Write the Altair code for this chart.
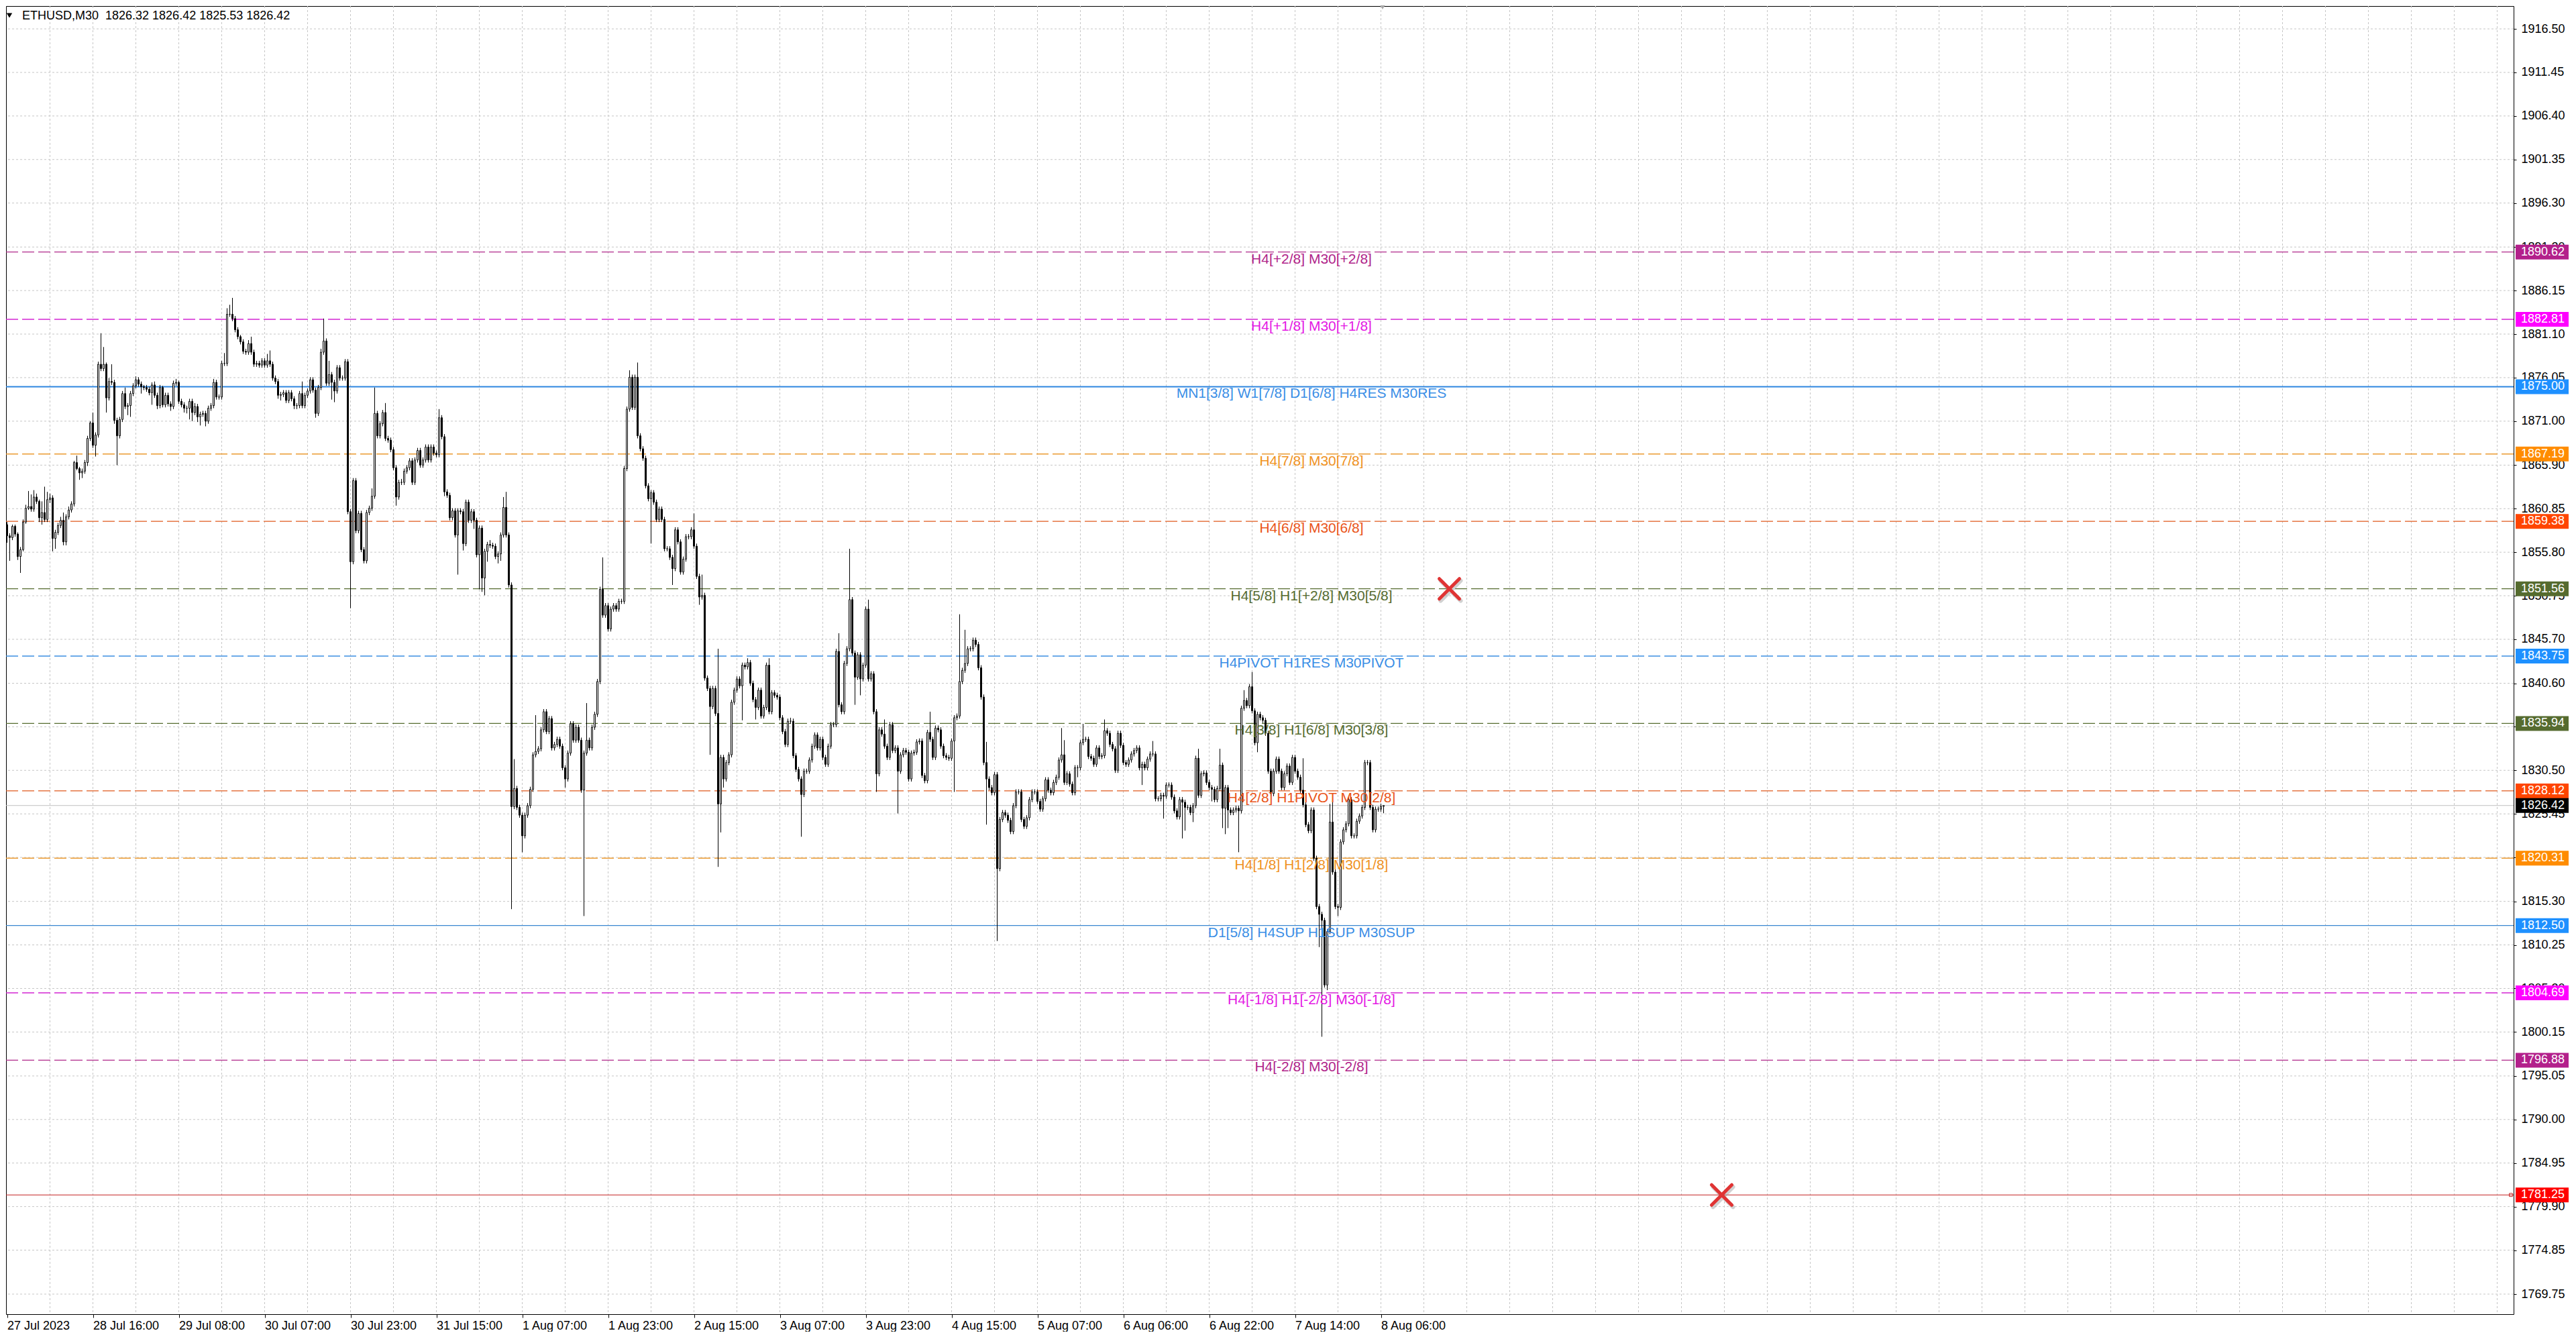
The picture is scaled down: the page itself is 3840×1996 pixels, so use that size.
import altair as alt
import pandas as pd

# ------------------------------------------------------------------ data
symbol_title = "ETHUSD,M30\u00a0\u00a01826.32 1826.42 1825.53 1826.42"

first_open = 1859.0
closes = [
    1857.7, 1857.5, 1858.8, 1857.9, 1855.3, 1856.1, 1859.3, 1860.9, 1861.1, 1860.8, 1862.2, 1861.7, 1859.8, 1860.4, 1859.6, 1861.9,
    1862.1, 1857.4, 1858.1, 1858.9, 1859.5, 1857.0, 1859.9, 1860.7, 1861.4, 1866.2, 1865.5, 1865.0, 1865.2, 1866.2, 1869.0, 1870.8,
    1868.2, 1869.4, 1877.6, 1877.1, 1877.6, 1873.7, 1875.6, 1875.5, 1871.1, 1869.3, 1871.2, 1874.2, 1872.7, 1872.8, 1874.2, 1875.1,
    1875.8, 1875.3, 1875.0, 1874.9, 1874.7, 1874.3, 1875.2, 1874.0, 1872.8, 1874.9, 1872.9, 1874.0, 1873.0, 1872.7, 1875.4, 1875.5,
    1873.3, 1872.9, 1872.5, 1872.5, 1873.3, 1872.0, 1872.7, 1871.5, 1871.8, 1871.9, 1871.0, 1872.5, 1872.8, 1875.5, 1873.8, 1873.8,
    1877.7, 1877.7, 1883.4, 1883.4, 1882.9, 1881.6, 1880.8, 1880.2, 1879.1, 1879.0, 1880.0, 1879.0, 1877.6, 1877.7, 1877.5, 1878.0,
    1877.5, 1878.0, 1877.6, 1876.0, 1875.6, 1874.0, 1874.1, 1874.3, 1873.4, 1874.3, 1873.6, 1872.8, 1872.8, 1874.2, 1872.8, 1874.0,
    1874.5, 1875.8, 1874.6, 1871.9, 1874.9, 1879.0, 1880.3, 1875.4, 1876.4, 1875.5, 1874.5, 1877.2, 1876.0, 1876.0, 1877.9, 1860.5,
    1854.7, 1864.1, 1858.3, 1860.3, 1856.1, 1854.8, 1860.4, 1860.9, 1862.3, 1871.9, 1869.3, 1870.7, 1872.0, 1869.0, 1868.8, 1867.7,
    1865.6, 1862.2, 1863.9, 1863.9, 1865.2, 1865.6, 1866.4, 1863.9, 1866.5, 1867.6, 1865.9, 1866.5, 1868.0, 1866.5, 1868.0, 1867.3,
    1867.1, 1871.4, 1869.2, 1862.8, 1862.4, 1859.8, 1860.6, 1857.8, 1860.6, 1860.5, 1856.8, 1861.6, 1859.5, 1860.5, 1859.5, 1855.5,
    1858.6, 1852.8, 1855.9, 1856.7, 1856.6, 1856.5, 1855.3, 1855.6, 1857.8, 1861.0, 1857.8, 1852.0, 1826.3, 1828.4, 1826.2, 1825.3,
    1822.9, 1825.3, 1826.4, 1828.3, 1832.3, 1832.7, 1833.0, 1835.2, 1837.3, 1835.0, 1836.5, 1833.1, 1833.5, 1834.1, 1833.3, 1830.8,
    1829.5, 1832.5, 1835.9, 1834.0, 1835.5, 1834.0, 1828.2, 1832.5, 1834.0, 1833.1, 1835.5, 1837.0, 1840.8, 1851.5, 1848.5, 1849.6,
    1846.9, 1849.2, 1849.6, 1849.2, 1850.1, 1850.1, 1865.5, 1872.4, 1876.1, 1872.6, 1876.1, 1869.3, 1867.8, 1866.7, 1863.5, 1862.0,
    1862.7, 1861.6, 1859.6, 1860.8, 1859.6, 1856.2, 1856.2, 1855.2, 1853.9, 1858.4, 1857.0, 1853.5, 1855.0, 1857.6, 1857.6, 1858.4,
    1856.5, 1853.0, 1850.6, 1850.8, 1841.2, 1840.0, 1837.9, 1840.0, 1837.1, 1826.6, 1832.0, 1829.5, 1831.4, 1832.3, 1838.4, 1839.8,
    1841.1, 1840.3, 1842.7, 1842.5, 1843.0, 1840.6, 1838.7, 1837.8, 1839.8, 1836.8, 1837.8, 1842.7, 1837.3, 1839.5, 1839.2, 1839.0,
    1836.6, 1835.0, 1833.5, 1836.2, 1836.2, 1832.2, 1830.6, 1829.5, 1827.7, 1830.4, 1830.4, 1831.7, 1833.3, 1834.6, 1833.1, 1834.1,
    1832.0, 1831.2, 1833.3, 1835.8, 1835.8, 1844.3, 1838.1, 1837.3, 1842.9, 1844.6, 1850.3, 1844.1, 1841.3, 1843.9, 1841.1, 1842.7,
    1849.2, 1841.1, 1841.7, 1837.3, 1830.1, 1835.2, 1834.7, 1833.3, 1832.0, 1835.8, 1832.8, 1833.1, 1830.4, 1832.3, 1832.8, 1832.6,
    1829.5, 1832.5, 1832.6, 1833.8, 1833.9, 1829.9, 1829.3, 1834.9, 1834.1, 1832.0, 1835.4, 1835.2, 1833.3, 1832.2, 1832.0, 1831.9,
    1833.9, 1836.6, 1836.8, 1840.8, 1842.1, 1842.9, 1844.6, 1844.6, 1845.6, 1845.1, 1842.4, 1839.0, 1831.4, 1829.5, 1828.5, 1827.9,
    1830.0, 1819.1, 1824.8, 1825.6, 1825.3, 1824.7, 1823.4, 1826.4, 1828.0, 1828.0, 1824.8, 1824.0, 1825.0, 1827.1, 1828.0, 1828.0,
    1826.9, 1826.0, 1827.2, 1829.4, 1828.2, 1827.9, 1829.1, 1829.7, 1831.7, 1832.3, 1829.1, 1830.1, 1828.9, 1827.9, 1830.8, 1830.8,
    1833.7, 1834.1, 1834.1, 1832.1, 1831.9, 1831.2, 1833.1, 1832.1, 1832.2, 1835.1, 1834.8, 1833.5, 1833.0, 1830.5, 1834.8, 1833.4,
    1831.4, 1831.2, 1831.7, 1832.4, 1832.8, 1833.1, 1830.8, 1831.2, 1830.8, 1831.8, 1832.4, 1832.4, 1827.2, 1827.2, 1827.6, 1827.5,
    1828.8, 1828.8, 1827.4, 1825.8, 1825.1, 1827.1, 1826.8, 1826.2, 1826.2, 1825.6, 1826.4, 1831.9, 1827.6, 1830.1, 1830.2, 1829.1,
    1828.5, 1828.3, 1827.1, 1828.4, 1831.1, 1826.1, 1828.5, 1825.9, 1825.6, 1825.9, 1826.1, 1825.8, 1837.7, 1838.6, 1838.0, 1840.2,
    1837.4, 1833.7, 1837.0, 1836.6, 1836.3, 1834.8, 1830.4, 1827.8, 1830.4, 1831.8, 1830.4, 1828.5, 1830.1, 1831.0, 1829.1, 1832.0,
    1830.4, 1829.7, 1828.2, 1826.5, 1824.2, 1823.5, 1825.9, 1820.3, 1814.7, 1813.8, 1813.1, 1805.6, 1811.8, 1824.5, 1818.7, 1814.7,
    1814.6, 1822.2, 1823.6, 1824.3, 1827.1, 1822.9, 1822.9, 1824.6, 1825.2, 1826.2, 1831.4, 1831.4, 1826.2, 1823.6, 1826.0, 1826.0,
    1826.32, 1826.42,
]

# wick lengths above max(open, close) and below min(open, close), in tenths of a dollar
upper_wick_tenths = [
    3, 3, 2, 2, 2, 3, 3, 4, 18, 14, 8, 4, 2, 13, 30, 9,
    5, 3, 3, 3, 4, 9, 3, 4, 3, 2, 8, 2, 3, 3, 3, 2,
    12, 3, 3, 36, 20, 2, 4, 20, 3, 3, 3, 3, 7, 3, 3, 3,
    4, 3, 3, 2, 3, 3, 3, 4, 3, 3, 2, 3, 3, 3, 3, 4,
    2, 3, 3, 3, 3, 3, 4, 3, 3, 3, 3, 3, 3, 4, 3, 3,
    3, 12, 7, 11, 19, 3, 3, 2, 3, 3, 4, 8, 3, 3, 3, 3,
    3, 8, 12, 3, 3, 3, 3, 3, 3, 3, 3, 3, 3, 3, 14, 3,
    3, 3, 3, 3, 3, 4, 26, 3, 16, 3, 3, 3, 3, 3, 3, 3,
    3, 3, 3, 3, 3, 3, 3, 3, 9, 30, 3, 3, 3, 11, 3, 3,
    3, 3, 3, 4, 3, 3, 3, 3, 3, 3, 3, 3, 3, 3, 3, 3,
    3, 10, 3, 3, 3, 3, 3, 3, 3, 3, 3, 3, 3, 3, 3, 3,
    3, 3, 3, 3, 5, 3, 3, 3, 3, 12, 18, 3, 3, 34, 3, 3,
    3, 3, 3, 3, 3, 42, 3, 3, 3, 3, 3, 3, 3, 3, 3, 3,
    3, 3, 3, 3, 3, 3, 3, 3, 43, 3, 3, 3, 3, 3, 37, 3,
    3, 3, 3, 3, 3, 3, 3, 3, 8, 3, 3, 17, 3, 3, 3, 3,
    3, 3, 3, 3, 3, 3, 3, 3, 3, 3, 3, 3, 3, 3, 3, 3,
    19, 3, 3, 24, 3, 3, 3, 3, 3, 75, 3, 3, 3, 3, 3, 3,
    3, 3, 3, 3, 5, 3, 3, 3, 3, 3, 3, 3, 8, 3, 3, 3,
    3, 3, 3, 3, 4, 3, 3, 3, 3, 3, 3, 3, 3, 3, 3, 3,
    3, 3, 3, 3, 3, 3, 21, 3, 3, 3, 59, 3, 3, 3, 3, 3,
    3, 11, 3, 3, 3, 3, 3, 17, 3, 3, 3, 3, 3, 3, 3, 3,
    3, 3, 3, 3, 3, 3, 3, 3, 24, 3, 3, 3, 3, 3, 3, 3,
    3, 3, 3, 78, 3, 39, 3, 3, 3, 3, 3, 3, 3, 24, 3, 3,
    3, 3, 3, 3, 3, 3, 3, 3, 3, 3, 3, 3, 3, 3, 3, 3,
    3, 3, 3, 3, 3, 3, 3, 3, 3, 31, 17, 3, 3, 3, 3, 3,
    3, 18, 3, 3, 3, 3, 3, 3, 3, 13, 3, 3, 3, 3, 3, 3,
    3, 3, 3, 3, 3, 3, 3, 3, 3, 3, 3, 15, 3, 3, 3, 3,
    3, 3, 3, 3, 3, 3, 3, 3, 3, 3, 3, 3, 11, 3, 3, 3,
    3, 3, 3, 3, 19, 3, 3, 3, 3, 3, 3, 3, 3, 12, 3, 3,
    17, 3, 3, 3, 3, 3, 3, 3, 3, 3, 3, 3, 3, 3, 3, 3,
    3, 3, 3, 37, 3, 3, 3, 3, 3, 3, 3, 3, 3, 21, 24, 3,
    3, 3, 3, 3, 3, 3, 3, 3, 3, 3, 3, 3, 3, 3, 3, 3,
    3, 0,
]
lower_wick_tenths = [
    8, 27, 3, 3, 4, 19, 2, 2, 2, 3, 3, 3, 5, 8, 3, 3,
    4, 15, 12, 3, 3, 4, 4, 3, 3, 3, 2, 8, 6, 3, 4, 3,
    3, 13, 3, 3, 3, 17, 3, 3, 4, 34, 3, 3, 3, 10, 13, 3,
    3, 3, 8, 3, 3, 3, 14, 3, 4, 3, 3, 3, 3, 5, 3, 3,
    3, 3, 5, 6, 13, 10, 3, 6, 10, 3, 6, 3, 3, 3, 3, 3,
    3, 3, 3, 3, 3, 3, 3, 3, 3, 3, 3, 3, 3, 3, 3, 3,
    3, 3, 3, 3, 3, 4, 6, 3, 3, 3, 3, 4, 4, 3, 3, 3,
    3, 3, 3, 5, 3, 3, 3, 3, 3, 20, 13, 3, 3, 3, 3, 3,
    54, 3, 3, 3, 3, 3, 3, 3, 3, 3, 3, 3, 3, 3, 3, 3,
    3, 10, 3, 3, 3, 3, 3, 3, 3, 3, 3, 3, 3, 3, 3, 3,
    3, 3, 3, 5, 3, 3, 3, 3, 46, 3, 8, 3, 3, 3, 10, 3,
    40, 16, 20, 12, 3, 3, 3, 8, 8, 3, 3, 3, 119, 3, 3, 3,
    19, 3, 3, 3, 3, 3, 3, 3, 3, 3, 3, 3, 3, 3, 3, 3,
    10, 3, 3, 3, 3, 3, 3, 146, 3, 3, 3, 3, 3, 3, 3, 3,
    3, 3, 3, 3, 3, 3, 3, 3, 3, 3, 3, 3, 3, 3, 3, 3,
    52, 3, 3, 3, 3, 3, 3, 3, 19, 3, 3, 3, 3, 3, 3, 3,
    3, 3, 9, 3, 3, 3, 56, 3, 3, 73, 33, 10, 3, 3, 3, 3,
    3, 3, 40, 3, 3, 3, 3, 14, 3, 3, 3, 3, 3, 3, 3, 3,
    3, 3, 3, 3, 3, 3, 3, 3, 49, 3, 3, 3, 3, 3, 3, 3,
    3, 3, 3, 3, 3, 3, 3, 3, 3, 3, 3, 3, 32, 3, 19, 3,
    3, 3, 3, 3, 21, 3, 3, 3, 3, 3, 3, 3, 49, 3, 3, 3,
    3, 3, 3, 3, 3, 3, 3, 3, 3, 3, 3, 3, 3, 3, 3, 3,
    3, 59, 3, 3, 3, 3, 3, 3, 3, 3, 3, 3, 3, 53, 3, 3,
    3, 84, 3, 3, 3, 3, 3, 3, 3, 3, 3, 3, 3, 3, 3, 3,
    3, 3, 3, 3, 3, 3, 3, 3, 3, 3, 3, 3, 3, 3, 3, 11,
    3, 3, 3, 3, 3, 3, 3, 3, 3, 3, 3, 3, 3, 3, 3, 3,
    3, 3, 3, 3, 3, 3, 3, 20, 3, 3, 3, 3, 3, 3, 3, 26,
    3, 3, 3, 3, 3, 3, 42, 27, 3, 3, 11, 3, 3, 3, 3, 3,
    3, 14, 3, 3, 3, 23, 30, 21, 3, 3, 3, 48, 3, 3, 3, 3,
    3, 3, 11, 3, 3, 3, 3, 3, 3, 3, 3, 3, 3, 3, 3, 3,
    3, 3, 3, 3, 3, 3, 3, 3, 3, 38, 135, 3, 6, 3, 3, 3,
    10, 3, 3, 3, 3, 3, 3, 3, 3, 3, 3, 3, 3, 3, 3, 3,
    3, 8,
]

time_labels = [
    "27 Jul 2023", "28 Jul 16:00", "29 Jul 08:00", "30 Jul 07:00", "30 Jul 23:00",
    "31 Jul 15:00", "1 Aug 07:00", "1 Aug 23:00", "2 Aug 15:00", "3 Aug 07:00",
    "3 Aug 23:00", "4 Aug 15:00", "5 Aug 07:00", "6 Aug 06:00", "6 Aug 22:00",
    "7 Aug 14:00", "8 Aug 06:00",
]
bars_per_label = 32

price_ticks = [
    1916.50, 1911.45, 1906.40, 1901.35, 1896.30, 1891.20, 1886.15, 1881.10, 1876.05, 1871.00,
    1865.90, 1860.85, 1855.80, 1850.75, 1845.70, 1840.60, 1835.55, 1830.50, 1825.45, 1820.40,
    1815.30, 1810.25, 1805.20, 1800.15, 1795.05, 1790.00, 1784.95, 1779.90, 1774.85, 1769.75,
]

level_prices = [1890.62, 1882.81, 1875.00, 1867.19, 1859.38, 1851.56, 1843.75,
                1835.94, 1828.12, 1820.31, 1812.50, 1804.69, 1796.88]
level_texts = [
    "H4[+2/8] M30[+2/8]",
    "H4[+1/8] M30[+1/8]",
    "MN1[3/8] W1[7/8] D1[6/8] H4RES M30RES",
    "H4[7/8] M30[7/8]",
    "H4[6/8] M30[6/8]",
    "H4[5/8] H1[+2/8] M30[5/8]",
    "H4PIVOT H1RES M30PIVOT",
    "H4[3/8] H1[6/8] M30[3/8]",
    "H4[2/8] H1PIVOT M30[2/8]",
    "H4[1/8] H1[2/8] M30[1/8]",
    "D1[5/8] H4SUP H1SUP M30SUP",
    "H4[-1/8] H1[-2/8] M30[-1/8]",
    "H4[-2/8] M30[-2/8]",
]
level_line_colors = ["#b0288a", "#d326d3", "#2f86e0", "#eb9a30", "#e05a1c", "#556b2f", "#3d8fe2",
                     "#556b2f", "#e05a1c", "#eb9a30", "#3a86d0", "#d326d3", "#b0288a"]
level_text_colors = ["#b0248a", "#e418e4", "#3a8ee6", "#f0921e", "#ea5418", "#556b2f", "#3a8ee6",
                     "#556b2f", "#ea5418", "#f0921e", "#3a8ee6", "#e418e4", "#b0248a"]
level_box_colors = ["#b3208b", "#ff00ff", "#1e90ff", "#ff8c00", "#ff4500", "#556b2f", "#1e90ff",
                    "#556b2f", "#ff4500", "#ff8c00", "#1e90ff", "#ff00ff", "#b3208b"]
level_dashed = [True, True, False, True, True, True, True, True, True, True, False, True, True]
level_widths = [1.4, 1.4, 2, 1.4, 1.4, 1.4, 1.4, 1.4, 1.4, 1.4, 1.2, 1.4, 1.4]

bid_price = 1826.42
stop_price = 1781.25
cross_bars = [537.5, 639.0]
cross_prices = [1851.56, 1781.25]

# ------------------------------------------------------------------ build tables
n = len(closes)
assert len(upper_wick_tenths) == n and len(lower_wick_tenths) == n
opens = [first_open] + closes[:-1]
rows = []
for i in range(n):
    o, c = opens[i], closes[i]
    rows.append({
        "i": i, "x0": i - 0.25, "x1": i + 0.25,
        "open": o, "close": c,
        "high": max(o, c) + upper_wick_tenths[i] / 10.0,
        "low": min(o, c) - lower_wick_tenths[i] / 10.0,
        "fill": "#ffffff" if c >= o else "#000000",
    })
candles = pd.DataFrame(rows)

levels = pd.DataFrame({
    "price": level_prices, "text": level_texts, "lc": level_line_colors,
    "tc": level_text_colors, "bc": level_box_colors, "dashed": level_dashed,
    "w": level_widths,
})
boxes = pd.DataFrame({
    "price": level_prices + [bid_price, stop_price],
    "bc": level_box_colors + ["#000000", "#ff0000"],
})
boxes["label"] = boxes["price"].map(lambda v: f"{v:.2f}")

# ------------------------------------------------------------------ layout
W, H = 3738, 1950
Y_MIN, Y_MAX = 1767.42, 1919.15
X_MIN, X_MAX = -0.375, 934.125
FONT = "Liberation Sans"

xs = alt.Scale(domain=[X_MIN, X_MAX], nice=False, zero=False, padding=0)
ys = alt.Scale(domain=[Y_MIN, Y_MAX], nice=False, zero=False, padding=0)

label_expr = "[" + ",".join("'" + t + "'" for t in time_labels) + "][round(datum.value / %d)]" % bars_per_label
x_axis = alt.Axis(
    values=[k * bars_per_label for k in range(len(time_labels))],
    labelExpr=label_expr, orient="bottom", grid=False, domain=False,
    ticks=True, tickColor="black", tickSize=5, labelPadding=3,
    labelAlign="left", labelBaseline="top", labelFont=FONT, labelFontSize=18,
    labelColor="black", labelOverlap=False, labelFlush=False, title=None, zindex=0,
)
y_axis = alt.Axis(
    values=price_ticks, format=".2f", orient="right", grid=False, domain=False,
    ticks=True, tickColor="black", tickSize=4, labelPadding=7,
    labelFont=FONT, labelFontSize=18, labelColor="black", labelBaseline="middle",
    labelOverlap=False, labelFlush=False, title=None, zindex=0,
)


def X(f):
    return alt.X(f, type="quantitative", scale=xs, axis=x_axis)


def Y(f):
    return alt.Y(f, type="quantitative", scale=ys, axis=y_axis)


grid_h = alt.Chart(pd.DataFrame({"p": price_ticks})).mark_rule(
    color="#c6c6c6", strokeDash=[3, 3], strokeWidth=1
).encode(y=Y("p"))

grid_bars = list(range(16, int(X_MAX) + 1, 16))
grid_v = alt.Chart(pd.DataFrame({"b": grid_bars})).mark_rule(
    color="#c6c6c6", strokeDash=[3, 3], strokeWidth=1
).encode(x=X("b"))

bid_line = alt.Chart(pd.DataFrame({"p": [bid_price]})).mark_rule(
    color="#c0c0c0", strokeWidth=1).encode(y=Y("p"))
stop_line = alt.Chart(pd.DataFrame({"p": [stop_price]})).mark_rule(
    color="#c42222", strokeWidth=1.2).encode(y=Y("p"))

dashed_lines = alt.Chart(levels[levels["dashed"]]).mark_rule(strokeDash=[18, 6]).encode(
    y=Y("price"), color=alt.Color("lc:N", scale=None),
    strokeWidth=alt.StrokeWidth("w:Q", scale=None))
solid_lines = alt.Chart(levels[~levels["dashed"]]).mark_rule().encode(
    y=Y("price"), color=alt.Color("lc:N", scale=None),
    strokeWidth=alt.StrokeWidth("w:Q", scale=None))

wicks = alt.Chart(candles).mark_rule(color="black", strokeWidth=1).encode(
    x=X("i"), y=Y("low"), y2="high")
bodies = alt.Chart(candles).mark_rect(stroke="black", strokeWidth=1).encode(
    x=X("x0"), x2="x1", y=Y("open"), y2="close",
    fill=alt.Fill("fill:N", scale=None))

level_text = alt.Chart(levels).mark_text(
    align="center", baseline="middle", dy=11, font=FONT, fontSize=21
).encode(x=alt.value(1946), y=Y("price"), text="text:N",
         color=alt.Color("tc:N", scale=None))

xdf = pd.DataFrame({"b": cross_bars, "p": cross_prices})
cross_path = "M-1,-1L1,1M1,-1L-1,1"
cross_shadow = alt.Chart(xdf).mark_point(
    shape=cross_path, filled=False, size=900, strokeWidth=6, strokeCap="round",
    color="#9a9a9a", opacity=0.45, xOffset=2, yOffset=3
).encode(x=X("b"), y=Y("p"))
cross = alt.Chart(xdf).mark_point(
    shape=cross_path, filled=False, size=900, strokeWidth=5, strokeCap="round",
    color="#e03434", opacity=1
).encode(x=X("b"), y=Y("p"))

stop_square = alt.Chart(pd.DataFrame({"p": [stop_price]})).mark_point(
    shape="square", filled=False, size=22, color="#c42222", strokeWidth=1, opacity=1
).encode(x=alt.value(W - 4), y=Y("p"))

box_rects = alt.Chart(boxes).mark_rect(yOffset=-11, y2Offset=11).encode(
    x=alt.value(W + 3), x2=alt.value(W + 82), y=Y("price"), y2="price",
    fill=alt.Fill("bc:N", scale=None))
box_text = alt.Chart(boxes).mark_text(
    align="left", baseline="middle", font=FONT, fontSize=18, color="white"
).encode(x=alt.value(W + 11), y=Y("price"), text="label:N")

title_tri = alt.Chart(pd.DataFrame({"t": [0]})).mark_point(
    shape="triangle-down", filled=True, color="black", size=70, opacity=1
).encode(x=alt.value(5), y=alt.value(14))
title_text = alt.Chart(pd.DataFrame({"t": [symbol_title]})).mark_text(
    align="left", baseline="middle", font=FONT, fontSize=18, color="black"
).encode(x=alt.value(24), y=alt.value(14.5), text="t:N")

shift_marker = alt.Chart(pd.DataFrame({"t": [0]})).mark_point(
    shape="triangle-down", filled=True, color="#a8a8a8", size=45, opacity=1
).encode(x=alt.value(2052), y=alt.value(2))

chart = alt.layer(
    grid_h, grid_v, bid_line, stop_line, dashed_lines, solid_lines,
    wicks, bodies, level_text, cross_shadow, cross, stop_square,
    box_rects, box_text, title_tri, title_text, shift_marker,
).properties(
    width=W, height=H, padding={"left": 0, "top": 0, "right": 0, "bottom": 0},
    background="white",
).configure_view(stroke="black", strokeWidth=1)

chart.save("out.html", embed_options={"renderer": "svg", "actions": False})
